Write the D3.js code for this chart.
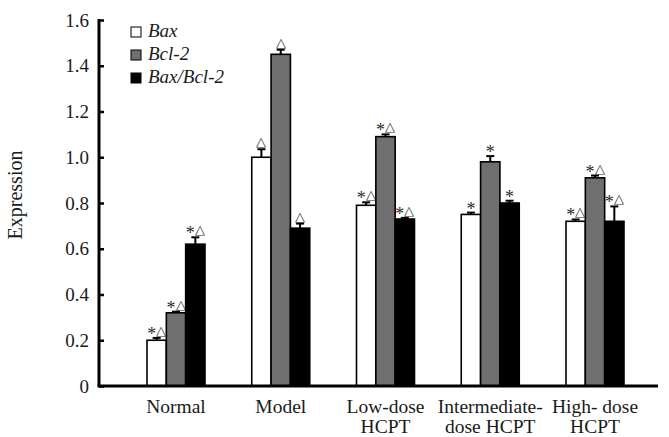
<!DOCTYPE html>
<html>
<head>
<meta charset="utf-8">
<script src="https://cdn.jsdelivr.net/npm/d3@7"></script>
<style>
  body { margin: 0; background: #fff; }
  text { font-family: "Liberation Serif", "Times New Roman", serif; fill: #1a1a1a; }
</style>
</head>
<body>
<div class="chart"></div>
<script>
var groups = ["Normal", "Model", "Low-dose HCPT", "Intermediate-dose HCPT", "High-dose HCPT"],
    groupLines = [["Normal"], ["Model"], ["Low-dose", "HCPT"], ["Intermediate-", "dose HCPT"], ["High- dose", "HCPT"]],
    series = ["Bax", "Bcl-2", "Bax/Bcl-2"],
    colors = ["#ffffff", "#6f6f6f", "#000000"];

var baxValues = [0.20, 1.00, 0.79, 0.75, 0.72],
    bclValues = [0.32, 1.45, 1.09, 0.98, 0.91],
    ratioValues = [0.62, 0.69, 0.73, 0.80, 0.72];

var baxErr = [0.01, 0.035, 0.013, 0.008, 0.008],
    bclErr = [0.005, 0.02, 0.01, 0.025, 0.01],
    ratioErr = [0.03, 0.02, 0.005, 0.01, 0.065];

var baxMarks = ["*△", "△", "*△", "*", "*△"],
    bclMarks = ["*△", "△", "*△", "*", "*△"],
    ratioMarks = ["*△", "△", "*△", "*", "*△"];

var yTicks = [0, 0.2, 0.4, 0.6, 0.8, 1.0, 1.2, 1.4, 1.6];

var margin = { top: 20, right: 11, bottom: 51, left: 99 },
    width = 669 - margin.left - margin.right,
    height = 437 - margin.top - margin.bottom;

var svg = d3.select(".chart").append("svg")
    .attr("width", 669)
    .attr("height", 437)
    .append("g")
    .attr("transform", "translate(" + margin.left + "," + margin.top + ")");

var y = d3.scaleLinear()
    .domain([0, 1.6])
    .range([height, 0]);

var x = d3.scalePoint()
    .domain(groups)
    .range([77, 496]);

var sub = d3.scaleBand()
    .domain(series)
    .range([-29, 29])
    .padding(0);

// rows of data, one per series
var rows = [
    { name: "Bax", values: baxValues, err: baxErr, marks: baxMarks },
    { name: "Bcl-2", values: bclValues, err: bclErr, marks: bclMarks },
    { name: "Bax/Bcl-2", values: ratioValues, err: ratioErr, marks: ratioMarks }
];

var cells = [];
rows.forEach(function (r, si) {
    groups.forEach(function (g, gi) {
        cells.push({ group: g, series: r.name, si: si, v: r.values[gi], e: r.err[gi], m: r.marks[gi] });
    });
});

// bars
svg.selectAll("rect.bar")
    .data(cells)
    .enter().append("rect")
    .attr("class", "bar")
    .attr("x", function (d) { return x(d.group) + sub(d.series); })
    .attr("width", sub.bandwidth())
    .attr("y", function (d) { return y(d.v); })
    .attr("height", function (d) { return y(0) - y(d.v); })
    .attr("fill", function (d) { return colors[d.si]; })
    .attr("stroke", "#000")
    .attr("stroke-width", 1.6);

// error bars
var eb = svg.selectAll("g.err")
    .data(cells)
    .enter().append("g")
    .attr("class", "err")
    .attr("transform", function (d) { return "translate(" + (x(d.group) + sub(d.series) + sub.bandwidth() / 2) + ",0)"; });

eb.append("line")
    .attr("y1", function (d) { return y(d.v); })
    .attr("y2", function (d) { return y(d.v + d.e); })
    .attr("stroke", "#000")
    .attr("stroke-width", 2);

eb.append("line")
    .attr("x1", -4).attr("x2", 4)
    .attr("y1", function (d) { return y(d.v + d.e); })
    .attr("y2", function (d) { return y(d.v + d.e); })
    .attr("stroke", "#000")
    .attr("stroke-width", 2);

// significance marks; the asterisk is set larger and dropped to sit level with the triangle
var mk = eb.append("text")
    .attr("y", function (d) { return y(d.v + d.e) - 3; })
    .attr("text-anchor", "middle")
    .style("font-size", "13px");

mk.selectAll("tspan")
    .data(function (d) { return d.m.split(""); })
    .enter().append("tspan")
    .attr("dy", function (c, i) { return c === "*" ? 5 : (i > 0 ? -5 : 0); })
    .style("font-size", function (c) { return c === "*" ? "18px" : "13px"; })
    .style("fill", "#2a2a2a")
    .text(function (c) { return c; });

// y axis
var yAxis = d3.axisLeft(y)
    .tickValues(yTicks)
    .tickSize(-5)
    .tickPadding(10)
    .tickFormat(function (d) { return d === 0 ? "0" : d3.format(".1f")(d); });

var ya = svg.append("g").call(yAxis);
ya.select(".domain").remove();
ya.selectAll("line").attr("stroke", "#000").attr("stroke-width", 2.5);
ya.selectAll("text").style("font-size", "19px").style("fill", "#1a1a1a");

svg.append("line")
    .attr("x1", 0).attr("x2", 0)
    .attr("y1", y(1.6) - 1).attr("y2", y(0))
    .attr("stroke", "#000").attr("stroke-width", 3);

svg.append("line")
    .attr("x1", -1.5).attr("x2", width)
    .attr("y1", y(0)).attr("y2", y(0))
    .attr("stroke", "#000").attr("stroke-width", 3);

// x labels
var xl = svg.selectAll("text.xlab")
    .data(groups)
    .enter().append("text")
    .attr("class", "xlab")
    .attr("text-anchor", "middle")
    .attr("transform", function (d) { return "translate(" + x(d) + "," + (height + 27) + ")"; })
    .style("font-size", "19.5px");

xl.selectAll("tspan")
    .data(function (d, i) { return groupLines[i]; })
    .enter().append("tspan")
    .attr("x", 0)
    .attr("dy", function (d, i) { return i === 0 ? 0 : 20; })
    .text(function (d) { return d; });

// y title
svg.append("text")
    .attr("transform", "translate(" + (-77) + "," + 175 + ") rotate(-90)")
    .attr("text-anchor", "middle")
    .style("font-size", "20px")
    .text("Expression");

// legend
var legend = svg.selectAll("g.leg")
    .data(series)
    .enter().append("g")
    .attr("class", "leg")
    .attr("transform", function (d, i) { return "translate(32," + (7 + i * 23) + ")"; });

legend.append("rect")
    .attr("width", 10).attr("height", 10)
    .attr("fill", function (d, i) { return colors[i]; })
    .attr("stroke", "#000")
    .attr("stroke-width", 1);

legend.append("text")
    .attr("x", 17)
    .attr("y", 10)
    .style("font-size", "19px")
    .style("font-style", "italic")
    .text(function (d) { return d; });
</script>
</body>
</html>
